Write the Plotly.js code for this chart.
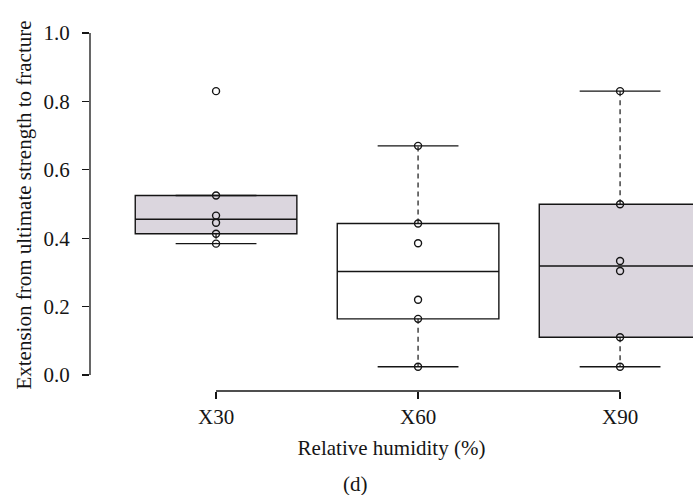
<!DOCTYPE html>
<html>
<head>
<meta charset="utf-8">
<script src="https://cdn.plot.ly/plotly-3.0.1.min.js"></script>
<style>html,body{margin:0;padding:0;background:#fff;}#chart{width:693px;height:495px;}</style>
</head>
<body>
<div id="chart"></div>
<script>
// ---- data ----
var categories = ["X30", "X60", "X90"];
var valuesX30 = [0.830, 0.525, 0.466, 0.445, 0.413, 0.384];
var valuesX60 = [0.670, 0.443, 0.385, 0.220, 0.164, 0.024];
var valuesX90 = [0.830, 0.499, 0.333, 0.304, 0.110, 0.024];
var series = [valuesX30, valuesX60, valuesX90];
var fills = ["#dbd6de", "#ffffff", "#dbd6de"];
var xTitle = "Relative humidity (%)";
var yTitle = "Extension from ultimate strength to fracture";
var caption = "(d)";
var yTicks = [0, 0.2, 0.4, 0.6, 0.8, 1.0];
var yTickText = ["0.0", "0.2", "0.4", "0.6", "0.8", "1.0"];

// R-style boxplot stats (Tukey hinges)
function stats(arr) {
  var x = arr.slice().sort(function(a, b){ return a - b; });
  var n = x.length;
  var n4 = Math.floor((n + 3) / 2) / 2;
  var d = [1, n4, (n + 1) / 2, n + 1 - n4, n];
  var f = d.map(function(v){ return 0.5 * (x[Math.floor(v) - 1] + x[Math.ceil(v) - 1]); });
  var iqr = f[3] - f[1];
  var hi = f[3] + 1.5 * iqr, lo = f[1] - 1.5 * iqr;
  var inside = x.filter(function(v){ return v >= lo && v <= hi; });
  return {q1: f[1], med: f[2], q3: f[3], lw: Math.min.apply(null, inside), uw: Math.max.apply(null, inside)};
}

var LINE = "#151515";
var FONT = {family: "Liberation Serif, Times New Roman, serif", size: 21, color: "#151515"};
var traces = [];
var boxW = 0.8, capHalf = 0.2;

series.forEach(function(vals, i) {
  var s = stats(vals);
  var xpos = i + 1;
  traces.push({
    type: "box", x: [xpos], q1: [s.q1], median: [s.med], q3: [s.q3],
    lowerfence: [s.q1], upperfence: [s.q3],
    width: boxW, whiskerwidth: 0, fillcolor: fills[i],
    line: {color: LINE, width: 1.4}, boxpoints: false,
    showlegend: false, hoverinfo: "skip"
  });
  traces.push({
    type: "scatter", mode: "lines",
    x: [xpos, xpos, null, xpos, xpos], y: [s.q3, s.uw, null, s.q1, s.lw],
    line: {color: LINE, width: 1.2, dash: "5px,4px"}, showlegend: false, hoverinfo: "skip"
  });
  traces.push({
    type: "scatter", mode: "lines",
    x: [xpos - capHalf, xpos + capHalf, null, xpos - capHalf, xpos + capHalf],
    y: [s.uw, s.uw, null, s.lw, s.lw],
    line: {color: LINE, width: 1.4}, showlegend: false, hoverinfo: "skip"
  });
  traces.push({
    type: "scatter", mode: "markers",
    x: vals.map(function(){ return xpos; }), y: vals,
    marker: {symbol: "circle-open", size: 7, color: LINE, line: {width: 1.4, color: LINE}},
    showlegend: false, cliponaxis: false
  });
});

var layout = {
  width: 693, height: 495,
  margin: {l: 90, r: 0, t: 19, b: 104},
  paper_bgcolor: "#fff", plot_bgcolor: "#fff",
  font: FONT,
  showlegend: false,
  xaxis: {
    range: [0.376, 3.361], tickvals: [1, 2, 3], ticktext: categories,
    ticks: "outside", ticklen: 7, tickwidth: 1.3, tickcolor: LINE,
    showline: false, showgrid: false, zeroline: false,
    ticklabelstandoff: 0,
    title: {text: xTitle, font: FONT, standoff: 12}
  },
  yaxis: {
    range: [-0.047, 1.041], tickvals: yTicks, ticktext: yTickText,
    ticks: "outside", ticklen: 7, tickwidth: 1.3, tickcolor: LINE,
    showline: false, showgrid: false, zeroline: false,
    ticklabelstandoff: 8,
    title: {text: yTitle, font: FONT, standoff: 6}
  },
  shapes: [
    {type: "line", xref: "x", yref: "paper", x0: 1, x1: 3, y0: 0, y1: 0, line: {color: LINE, width: 1.3}},
    {type: "line", xref: "paper", yref: "y", x0: 0, x1: 0, y0: 0, y1: 1, line: {color: LINE, width: 1.3}}
  ],
  annotations: [
    {text: caption, xref: "paper", yref: "paper", x: 0.441, y: -0.25, xanchor: "center", yanchor: "middle",
     showarrow: false, font: FONT}
  ]
};

Plotly.newPlot("chart", traces, layout, {staticPlot: true, displayModeBar: false});
</script>
</body>
</html>
